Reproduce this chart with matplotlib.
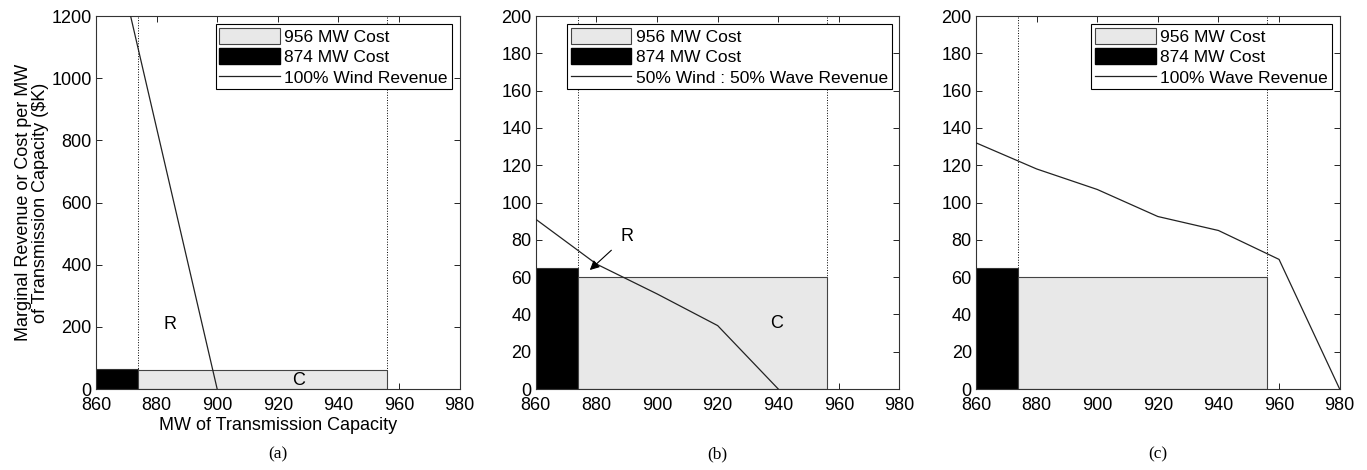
import numpy as np
import matplotlib.pyplot as plt
from matplotlib.patches import Patch
from matplotlib.lines import Line2D

# capacity grid (MW) and revenue curves ($K per MW)
wind_x = [860, 880, 900]
wind_rev = [1680, 840, 0]
mix_x = [860, 880, 900, 920, 940]
mix_rev = [91, 67, 51, 34, 0]
wave_x = [860, 880, 900, 920, 940, 960, 980]
wave_rev = [132, 118, 107, 92.5, 85, 69.5, 0]

cost_874 = 65
cost_956 = 60
cap_low, cap_874, cap_956 = 860, 874, 956

panels = [
  (wind_x, wind_rev, '100% Wind Revenue', 1200, 200, '(a)'),
  (mix_x, mix_rev, '50% Wind : 50% Wave Revenue', 200, 20, '(b)'),
  (wave_x, wave_rev, '100% Wave Revenue', 200, 20, '(c)'),
]

plt.rcParams['font.family'] = ['Liberation Sans', 'DejaVu Sans']
fig = plt.figure(figsize=(13.67, 4.70), dpi=100)
lefts = [0.0702, 0.392, 0.714]
light = '#e8e8e8'

axes = []
for left, (xs, ys, label, ymax, ystep, tag) in zip(lefts, panels):
  ax = fig.add_axes([left, 0.1723, 0.266, 0.7936])
  axes.append(ax)
  ax.bar(cap_low, cost_874, width=cap_874 - cap_low, align='edge',
         color='black', edgecolor='#333333', linewidth=0.8, zorder=2)
  ax.bar(cap_874, cost_956, width=cap_956 - cap_874, align='edge',
         color=light, edgecolor='#444444', linewidth=0.8, zorder=2)
  for xv in (cap_874, cap_956):
    ax.axvline(xv, color='black', linestyle=':', linewidth=0.7, zorder=1)
  ax.plot(xs, ys, color='#222222', linewidth=0.9, zorder=3)
  ax.set_xlim(860, 980)
  ax.set_ylim(0, ymax)
  ax.set_xticks(np.arange(860, 981, 20))
  ax.set_yticks(np.arange(0, ymax + 1, ystep))
  ax.tick_params(direction='in', top=True, right=True, labelsize=13, length=4, width=0.6)
  ax.tick_params(axis='x', pad=6)
  ax.tick_params(axis='y', pad=3)
  for s in ax.spines.values():
    s.set_linewidth(0.8)
    s.set_color('#333333')

  handles = [Patch(facecolor=light, edgecolor='#444444', linewidth=0.8),
             Patch(facecolor='black', edgecolor='black'),
             Line2D([0], [0], color='#222222', linewidth=0.9)]
  leg = ax.legend(handles, ['956 MW Cost', '874 MW Cost', label], loc='upper right',
                  fontsize=12.5, fancybox=False, framealpha=1, edgecolor='black',
                  handlelength=3.5, handleheight=1.05, borderaxespad=0.45,
                  borderpad=0.22, labelspacing=0.2, handletextpad=0.25)
  leg.get_frame().set_linewidth(0.8)

  fig.text(left + 0.133, 0.025, tag, ha='center', fontsize=12.5, family='Liberation Serif')

axes[0].set_ylabel('Marginal Revenue or Cost per MW\nof Transmission Capacity ($K)', fontsize=13, labelpad=2,
                   linespacing=0.95)
axes[0].set_xlabel('MW of Transmission Capacity', fontsize=13, labelpad=2)
axes[0].text(884.4, 206, 'R', fontsize=13, ha='center', va='center')
axes[0].text(927, 26, 'C', fontsize=13, ha='center', va='center')

axes[1].annotate('R', xy=(877.8, 63.8), xytext=(890, 82), fontsize=13, ha='center', va='center',
                 arrowprops=dict(arrowstyle='-|>', color='black', lw=0.8, shrinkA=6, shrinkB=0,
                                 mutation_scale=14))
axes[1].text(939.5, 35, 'C', fontsize=13, ha='center', va='center')

fig.savefig('out.png', dpi=100)
